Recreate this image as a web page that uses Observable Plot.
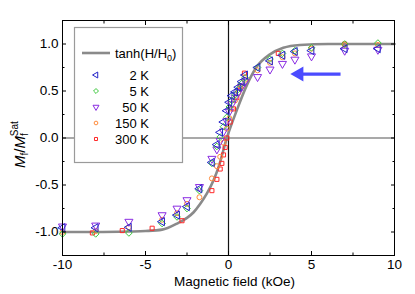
<!DOCTYPE html>
<html><head><meta charset="utf-8">
<script src="https://cdn.jsdelivr.net/npm/d3@7"></script>
<script src="https://cdn.jsdelivr.net/npm/@observablehq/plot@0.6"></script>
<style>
html,body{margin:0;padding:0;background:#fff;}
#chart svg{display:block;}
</style>
</head><body><div id="chart"></div>
<script>
// ---- data ----
const fieldA = [9, 7, 5, 4, 3.25, 2.5, 1.75, 1.0, 0.8, 0.6, 0.4, 0.2, 0.05, -0.1, -0.3, -0.5, -0.7, -1.0, -1.75, -2.5, -3.1, -4, -6, -8, -10];
const m2K   = [0.95, 0.95, 0.93, 0.92, 0.88, 0.82, 0.75, 0.67, 0.60, 0.54, 0.49, 0.45, 0.38, 0.29, 0.17, 0.06, -0.07, -0.26, -0.54, -0.73, -0.82, -0.89, -0.95, -0.955, -0.955];
const m5K   = [1.01, 1.0, 0.96, 0.93, 0.90, 0.84, 0.75, 0.64, 0.58, 0.52, 0.46, 0.40, 0.33, 0.22, 0.12, 0.01, -0.09, -0.27, -0.56, -0.75, -0.84, -0.91, -1.01, -1.02, -1.02];
const m50K  = [0.94, 0.93, 0.87, 0.835, 0.79, 0.73, 0.65, 0.60, 0.55, 0.49, 0.43, 0.36, 0.28, 0.18, 0.07, -0.03, -0.12, -0.22, -0.52, -0.66, -0.75, -0.82, -0.89, -0.93, -0.94];
const m150K = [0.99, 0.99, 0.95, 0.90, 0.86, 0.80, 0.72, 0.62, 0.55, 0.48, 0.40, 0.31, 0.21, 0.10, -0.05, -0.20, -0.30, -0.43, -0.63, -0.70, -0.80, -0.87, -0.95, -0.99, -1.0];
const field300 = [7, 3.0, 0.96, 0.7, 0.5, 0.3, 0.1, -0.1, -0.2, -0.3, -0.4, -0.5, -0.7, -1.0, -2.8, -4.6, -6.4, -8.2];
const m300K    = [1.0, 0.9, 0.69, 0.55, 0.43, 0.31, 0.17, 0.0, -0.1, -0.18, -0.27, -0.33, -0.44, -0.56, -0.88, -0.96, -0.985, -1.01];
const curveH = [-10, -8, -6, -5, -4, -3.1, -2.5, -2.1, -1.7, -1.3, -0.9, -0.6, -0.1, 0.5, 1.1, 1.7, 2.5, 3.3, 4.3, 6, 8, 10];
const curveM = [-1, -1, -0.995, -0.99, -0.975, -0.91, -0.85, -0.79, -0.70, -0.59, -0.45, -0.31, 0, 0.295, 0.56, 0.757, 0.89, 0.96, 0.99, 1, 1, 1];
const seriesNames = ["2 K", "5 K", "50 K", "150 K", "300 K"];
const xTickLabels = [-10, -5, 0, 5, 10];
const xMinorTicks = [-7.5, -2.5, 2.5, 7.5];
const yTickLabels = [-1.0, -0.5, 0.0, 0.5, 1.0];
const yMinorTicks = [-1.25, -0.75, -0.25, 0.25, 0.75, 1.25];
const arrowTail = [6.75, 0.68];
const arrowTip  = [4.3, 0.68];
const arrowHeadCenter = [4.25, 0.68];

// ---- styles ----
const styles = [
  {color: "#2424c8", symbol: "triangle", rotate: -90, r: 3.0},
  {color: "#3cc83c", symbol: "diamond2", rotate: 0, r: 3.0},
  {color: "#8a2be2", symbol: "triangle", rotate: 180, r: 3.0},
  {color: "#ff8c3c", symbol: "circle", rotate: 0, r: 2.5},
  {color: "#ff2a2a", symbol: "square2", rotate: 0, r: 2.6}
];
const seriesData = [
  fieldA.map((h, i) => ({h, m: m2K[i]})),
  fieldA.map((h, i) => ({h, m: m5K[i]})),
  fieldA.map((h, i) => ({h, m: m50K[i]})),
  fieldA.map((h, i) => ({h, m: m150K[i]})),
  field300.map((h, i) => ({h, m: m300K[i]}))
];
const curve = curveH.map((h, i) => ({h, m: curveM[i]}));
const font = "'Liberation Sans', Arial, sans-serif";

const dotMarks = seriesData.map((d, k) => Plot.dot(d, {
  x: "h", y: "m", symbol: () => styles[k].symbol, r: styles[k].r,
  rotate: styles[k].rotate, fill: "none", stroke: styles[k].color, strokeWidth: 1
}));

const svg = Plot.plot({
  width: 415, height: 294,
  marginLeft: 62, marginRight: 21, marginTop: 20, marginBottom: 39,
  x: {domain: [-10, 10]},
  y: {domain: [-1.25, 1.25]},
  style: {fontFamily: font, fontSize: "13.5px", color: "black", background: "white"},
  marks: [
    Plot.ruleX([0], {stroke: "#111", strokeWidth: 1.2}),
    Plot.ruleY([0], {stroke: "#555", strokeWidth: 1.2}),
    Plot.line(curve, {x: "h", y: "m", stroke: "#8a8a8a", strokeWidth: 2.6, curve: "monotone-x"}),
    ...dotMarks.reverse(),
    Plot.link([0], {x1: () => arrowTail[0], y1: () => arrowTail[1], x2: () => arrowTip[0], y2: () => arrowTip[1], stroke: "#4b4bff", strokeWidth: 3.2}),
    Plot.dot([0], {x: () => arrowHeadCenter[0], y: () => arrowHeadCenter[1], symbol: "triangle", rotate: -90, r: 5.6, fill: "#4b4bff", stroke: "none"}),
    Plot.axisX({ticks: xTickLabels, tickSize: -4, tickPadding: 8, tickFormat: d => String(d), label: null, fontSize: 13.5}),
    Plot.axisX({ticks: xMinorTicks, tickSize: -2.5, tickFormat: () => "", label: null}),
    Plot.axisX({anchor: "top", ticks: xTickLabels, tickSize: -4, tickFormat: () => "", label: null}),
    Plot.axisX({anchor: "top", ticks: xMinorTicks, tickSize: -2.5, tickFormat: () => "", label: null}),
    Plot.axisY({ticks: yTickLabels, tickSize: -4, tickPadding: 8, tickFormat: d => d.toFixed(1), label: null, fontSize: 13.5}),
    Plot.axisY({ticks: yMinorTicks, tickSize: -2.5, tickFormat: () => "", label: null}),
    Plot.axisY({anchor: "right", ticks: yTickLabels, tickSize: -4, tickFormat: () => "", label: null}),
    Plot.axisY({anchor: "right", ticks: yMinorTicks, tickSize: -2.5, tickFormat: () => "", label: null}),
    Plot.frame({stroke: "black", strokeWidth: 1}),
    Plot.text(["Magnetic field (kOe)"], {frameAnchor: "bottom", dy: 30, dx: 6, fontSize: 13.5, fill: "black"})
  ]
});

const s = d3.select(svg);
// y-axis title
const yt = s.append("text")
  .attr("transform", "rotate(-90)")
  .attr("x", -168).attr("y", 25)
  .attr("font-family", font).attr("font-size", 15).attr("fill", "black")
  .attr("text-anchor", "start");
yt.append("tspan").attr("font-style", "italic").text("M");
yt.append("tspan").attr("font-size", 10).attr("dy", 3).text("f");
yt.append("tspan").attr("dy", -3).text("/");
yt.append("tspan").attr("font-style", "italic").text("M");
yt.append("tspan").attr("font-size", 10).attr("dy", 3).text("f");
yt.append("tspan").attr("font-size", 10).attr("dx", -3).attr("dy", -10).text("Sat");

// legend
const lg = s.append("g").attr("font-family", font).attr("font-size", 13).attr("text-anchor", "start");
lg.append("rect").attr("x", 74.5).attr("y", 27.5).attr("width", 108).attr("height", 135)
  .attr("fill", "white").attr("stroke", "#9a9a9a").attr("stroke-width", 1.2);
lg.append("line").attr("x1", 82).attr("x2", 110).attr("y1", 53).attr("y2", 53)
  .attr("stroke", "#8a8a8a").attr("stroke-width", 2.6);
const tt = lg.append("text").attr("x", 115).attr("y", 57.5).attr("fill", "black").attr("text-anchor", "start");
tt.append("tspan").text("tanh(H/H");
tt.append("tspan").attr("font-size", 9).attr("dy", 3).text("0");
tt.append("tspan").attr("dy", -3).text(")");
const symMap = {triangle: d3.symbolTriangle, diamond2: d3.symbolDiamond2, circle: d3.symbolCircle, square2: d3.symbolSquare2};
seriesNames.forEach((name, k) => {
  const y = 75 + k * 16;
  const st = styles[k];
  lg.append("path")
    .attr("d", d3.symbol(symMap[st.symbol], Math.PI * st.r * st.r * 0.55)())
    .attr("transform", `translate(96,${y}) rotate(${st.rotate})`)
    .attr("fill", "none").attr("stroke", st.color).attr("stroke-width", 1);
  lg.append("text").attr("x", 149).attr("y", y + 4.5).attr("text-anchor", "end")
    .attr("fill", "black").text(name);
});

document.getElementById("chart").appendChild(svg);
</script>
</body></html>
